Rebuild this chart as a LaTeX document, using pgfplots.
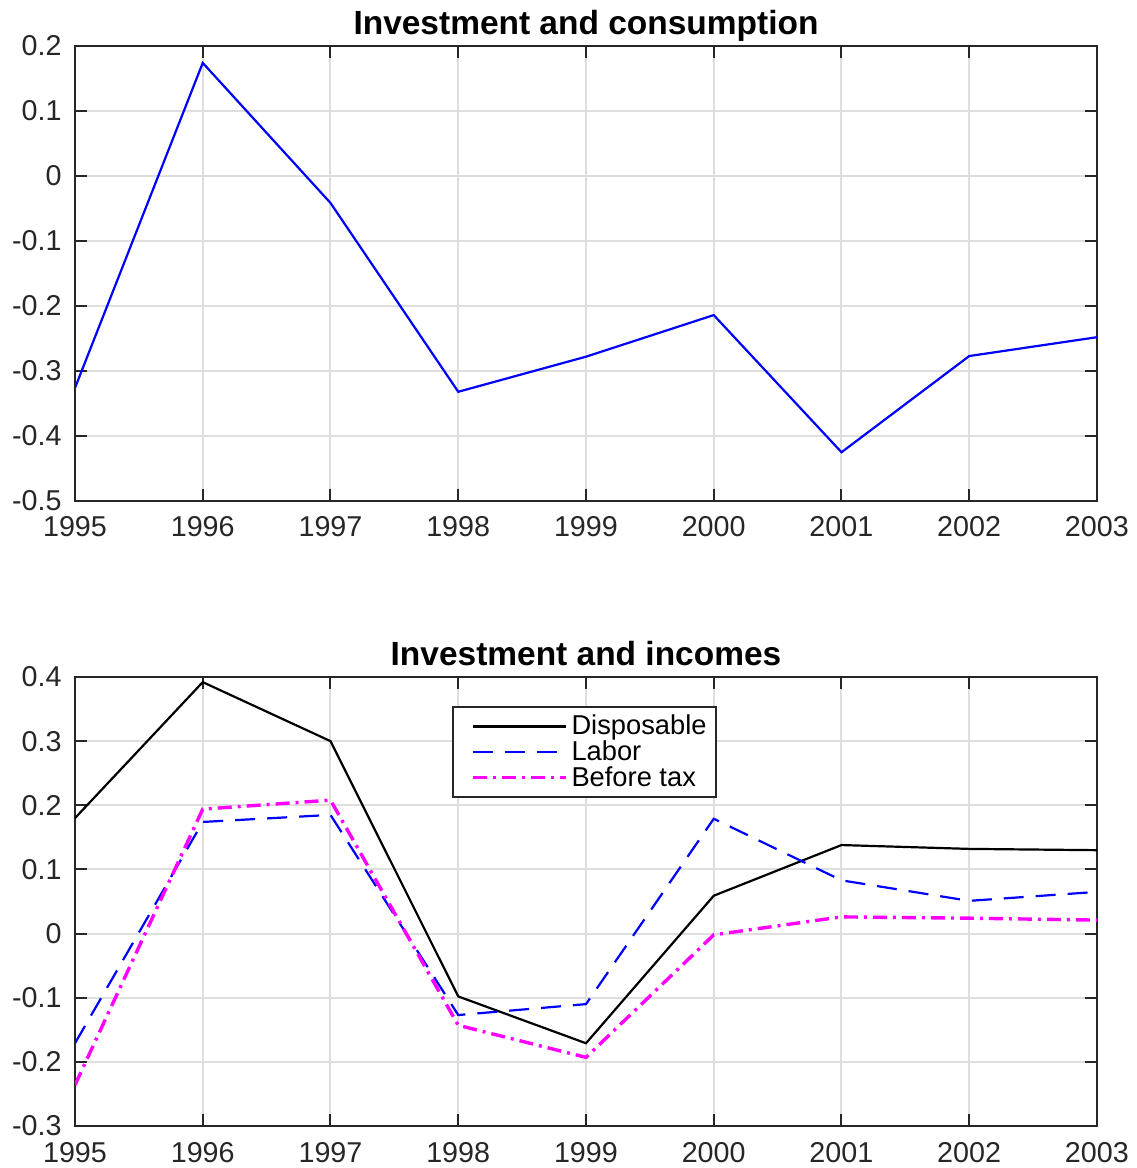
\documentclass[border=0pt]{standalone}
\usepackage{pgfplots}
\pgfplotsset{compat=1.18}
\usepackage{fontspec}
\setmainfont{Liberation Sans}
\definecolor{gridc}{RGB}{222,222,222}
\definecolor{axc}{RGB}{38,38,38}
\definecolor{mag}{RGB}{255,0,255}
\begin{document}
\begin{tikzpicture}
\useasboundingbox (-37.5bp,-21bp) rectangle (531bp,563bp);
\pgfplotsset{
  myax/.style={
    scale only axis, width=511bp,
    xmin=1995, xmax=2003,
    xtick={1995,...,2003},
    xticklabels={1995,1996,1997,1998,1999,2000,2001,2002,2003},
    grid=major,
    major grid style={gridc, line width=1bp},
    axis line style={axc, line width=1bp},
    major tick length=6bp,
    tick style={axc, line width=1bp},
    tick align=inside,
    ticklabel style={font=\fontsize{14.4}{16}\selectfont, text=axc, inner sep=0pt},
    xticklabel style={anchor=base, yshift=-18bp},
    yticklabel style={anchor=east, xshift=-6.5bp},
    title style={font=\bfseries\fontsize{16.8}{18}\selectfont, at={(0.5,1)}, anchor=base, inner sep=0pt, yshift=0bp},
  }
}
\begin{axis}[myax, at={(0,312.5bp)}, anchor=south west, height=227.5bp,
  ymin=-0.5, ymax=0.2,
  ytick={-0.5,-0.4,-0.3,-0.2,-0.1,0,0.1,0.2},
  yticklabels={-0.5,-0.4,-0.3,-0.2,-0.1,0,0.1,0.2},
  title={Investment and consumption}]
\addplot[blue, line width=1.1bp] coordinates {
(1995,-0.326) (1996,0.174) (1997,-0.0415) (1998,-0.332) (1999,-0.278)
(2000,-0.214) (2001,-0.425) (2002,-0.277) (2003,-0.248)};
\end{axis}
\begin{axis}[myax, at={(0,0)}, anchor=south west, height=224.5bp,
  ymin=-0.3, ymax=0.4,
  ytick={-0.3,-0.2,-0.1,0,0.1,0.2,0.3,0.4},
  yticklabels={-0.3,-0.2,-0.1,0,0.1,0.2,0.3,0.4},
  title={Investment and incomes},
  legend style={at={(0.369,0.935)}, anchor=north west, draw=axc, line width=1bp,
    font=\fontsize{13.7}{14}\selectfont, inner xsep=2.5bp, inner ysep=2bp, row sep=-2.6bp,
    cells={anchor=west}},
  legend cell align=left,
  legend image code/.code={\path (0bp,0bp) -- (0bp,0bp); \draw[#1] (6.5bp,0bp) -- (53bp,0bp);}]
\addplot[black, line width=1.1bp] coordinates {
(1995,0.18) (1996,0.392) (1997,0.30) (1998,-0.098) (1999,-0.171)
(2000,0.059) (2001,0.138) (2002,0.132) (2003,0.130)};
\addlegendentry{Disposable}
\addplot[blue, line width=1.1bp, dash pattern=on 10bp off 6bp] coordinates {
(1995,-0.171) (1996,0.174) (1997,0.185) (1998,-0.127) (1999,-0.110)
(2000,0.179) (2001,0.083) (2002,0.051) (2003,0.065)};
\addlegendentry{Labor}
\addplot[mag, line width=1.7bp, dash pattern=on 7bp off 3bp on 1.5bp off 3bp] coordinates {
(1995,-0.236) (1996,0.194) (1997,0.208) (1998,-0.143) (1999,-0.193)
(2000,-0.002) (2001,0.026) (2002,0.024) (2003,0.021)};
\addlegendentry{Before tax}
\end{axis}
\end{tikzpicture}
\end{document}
